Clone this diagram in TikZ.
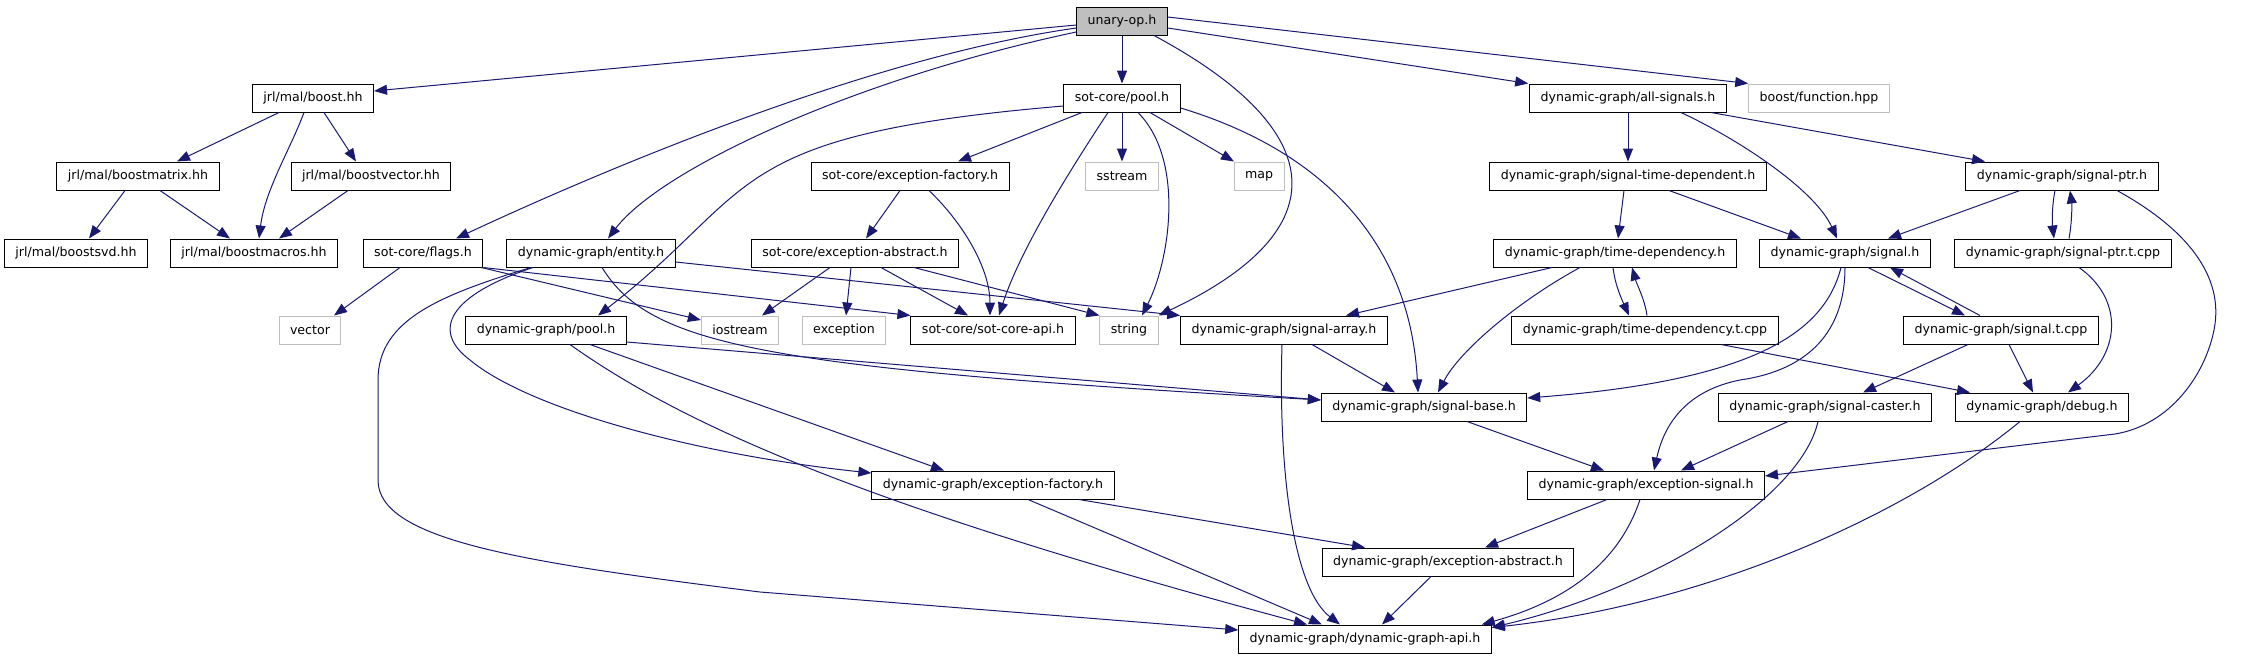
\documentclass[tikz,border=0pt]{standalone}
\usepackage{fontspec}
\setmainfont{DejaVu Sans}
\usetikzlibrary{arrows.meta}
\definecolor{Edge}{HTML}{191970}
\definecolor{SysLine}{HTML}{BFBFBF}
\definecolor{Top}{HTML}{BFBFBF}
\tikzset{
  hdr/.style={
    draw=black,line width=1pt,fill=white,
    minimum height=28pt,inner xsep=11pt,inner ysep=0pt,
    font=\fontsize{12.6}{15}\selectfont
  },
  syshdr/.style={hdr,draw=SysLine},
  incl/.style={-{Triangle[length=13pt,width=10pt]},draw=Edge,line width=1pt}
}

\begin{document}
\begin{tikzpicture}[x=1pt,y=-1pt]
  \useasboundingbox (0,0) rectangle (2260,659);
  % headers, row by row
  \node[hdr,fill=Top] (unary) at (1122,21) {unary-op.h};

  \node[hdr] (boost) at (313,98) {jrl/mal/boost.hh};
  \node[hdr] (sotpool) at (1122,98) {sot-core/pool.h};
  \node[hdr] (allsig) at (1628,98) {dynamic-graph/all-signals.h};
  \node[syshdr] (boostfn) at (1819,98) {boost/function.hpp};

  \node[hdr] (bmatrix) at (138,176) {jrl/mal/boostmatrix.hh};
  \node[hdr] (bvector) at (371,176) {jrl/mal/boostvector.hh};
  \node[hdr] (sotexcf) at (910,176) {sot-core/exception-factory.h};
  \node[syshdr] (sstream) at (1122,176) {sstream};
  \node[syshdr] (map) at (1259,176) {map};
  \node[hdr] (sigtd) at (1628,176) {dynamic-graph/signal-time-dependent.h};
  \node[hdr] (sigptr) at (2062,176) {dynamic-graph/signal-ptr.h};

  \node[hdr] (bsvd) at (76,253) {jrl/mal/boostsvd.hh};
  \node[hdr] (bmacros) at (254,253) {jrl/mal/boostmacros.hh};
  \node[hdr] (flags) at (423,253) {sot-core/flags.h};
  \node[hdr] (entity) at (591,253) {dynamic-graph/entity.h};
  \node[hdr] (sotexca) at (855,253) {sot-core/exception-abstract.h};
  \node[hdr] (timedep) at (1615,253) {dynamic-graph/time-dependency.h};
  \node[hdr] (signal) at (1845,253) {dynamic-graph/signal.h};
  \node[hdr] (sigptrt) at (2063,253) {dynamic-graph/signal-ptr.t.cpp};

  \node[syshdr] (vector) at (310,330) {vector};
  \node[hdr] (dgpool) at (546,330) {dynamic-graph/pool.h};
  \node[syshdr] (iostream) at (740,330) {iostream};
  \node[syshdr] (exception) at (844,330) {exception};
  \node[hdr] (sotapi) at (993,330) {sot-core/sot-core-api.h};
  \node[syshdr] (string) at (1129,330) {string};
  \node[hdr] (sigarray) at (1284,330) {dynamic-graph/signal-array.h};
  \node[hdr] (timedept) at (1645,330) {dynamic-graph/time-dependency.t.cpp};
  \node[hdr] (sigt) at (2001,330) {dynamic-graph/signal.t.cpp};

  \node[hdr] (sigbase) at (1424,407) {dynamic-graph/signal-base.h};
  \node[hdr] (sigcaster) at (1825,407) {dynamic-graph/signal-caster.h};
  \node[hdr] (debug) at (2042,407) {dynamic-graph/debug.h};

  \node[hdr] (dgexcf) at (993,485) {dynamic-graph/exception-factory.h};
  \node[hdr] (excsig) at (1646,485) {dynamic-graph/exception-signal.h};

  \node[hdr] (dgexca) at (1448,562) {dynamic-graph/exception-abstract.h};

  \node[hdr] (dgapi) at (1365,639) {dynamic-graph/dynamic-graph-api.h};

  % unary-op.h
  \draw[incl] ([yshift=-4pt]unary.west) -- ([yshift=7pt]boost.east);
  \draw[incl] ([yshift=-7pt]unary.west) .. controls (850,60) and (560,190) .. ([xshift=33pt]flags.north);
  \draw[incl] ([yshift=-11pt]unary.west) .. controls (850,80) and (660,170) .. ([xshift=17pt]entity.north);
  \draw[incl] (unary.south) -- (sotpool.north);
  \draw[incl] ([xshift=32pt]unary.south) .. controls (1330,130) and (1340,230) .. (string.north east);
  \draw[incl] ([yshift=-7pt]unary.east) -- ([xshift=-1pt]allsig.north west);
  \draw[incl] ([yshift=4pt]unary.east) -- (boostfn.north west);

  % jrl/mal
  \draw[incl] ([xshift=-34pt]boost.south) -- ([xshift=39pt]bmatrix.north);
  \draw[incl] ([xshift=-9pt]boost.south) .. controls (290,150) and (265,190) .. ([xshift=5pt]bmacros.north);
  \draw[incl] ([xshift=11pt]boost.south) -- ([xshift=-15pt]bvector.north);
  \draw[incl] ([xshift=-13pt]bmatrix.south) -- ([xshift=13pt]bsvd.north);
  \draw[incl] ([xshift=22pt]bmatrix.south) -- ([xshift=-24pt]bmacros.north);
  \draw[incl] ([xshift=-23pt]bvector.south) -- ([xshift=25pt]bmacros.north);

  % sot-core/pool.h
  \draw[incl] ([yshift=-8pt]sotpool.west) .. controls (720,135) and (760,190) .. ([xshift=52pt]dgpool.north);
  \draw[incl] ([xshift=-40pt]sotpool.south) -- ([xshift=48pt]sotexcf.north);
  \draw[incl] ([xshift=-14pt]sotpool.south) .. controls (1070,170) and (1020,250) .. ([xshift=6pt]sotapi.north);
  \draw[incl] (sotpool.south) -- (sstream.north);
  \draw[incl] ([xshift=16pt]sotpool.south) .. controls (1185,160) and (1170,260) .. ([xshift=13pt]string.north);
  \draw[incl] ([xshift=28pt]sotpool.south) -- ([xshift=-25pt]map.north);
  \draw[incl] ([yshift=-10pt]sotpool.east) .. controls (1320,150) and (1410,240) .. ([xshift=-6pt]sigbase.north);

  % sot-core exceptions and flags
  \draw[incl] ([xshift=-10pt]sotexcf.south) -- ([xshift=11pt]sotexca.north);
  \draw[incl] ([xshift=19pt]sotexcf.south) .. controls (965,225) and (990,270) .. ([xshift=-3pt]sotapi.north);
  \draw[incl] ([xshift=-25pt]sotexca.south) -- ([xshift=22pt]iostream.north);
  \draw[incl] ([xshift=-4pt]sotexca.south) -- ([xshift=2pt]exception.north);
  \draw[incl] ([xshift=26pt]sotexca.south) -- ([xshift=-25pt]sotapi.north);
  \draw[incl] ([xshift=59pt]sotexca.south) -- (string.north west);
  \draw[incl] ([xshift=-23pt]flags.south) -- ([xshift=24pt]vector.north);
  \draw[incl] ([xshift=-2pt]flags.south east) -- ([yshift=10pt]iostream.west);
  \draw[incl] (flags.south east) -- (sotapi.north west);

  % entity.h and pool.h
  \draw[incl] ([yshift=-9pt]entity.east) -- (sigarray.north west);
  \draw[incl] ([xshift=11pt]entity.south) .. controls (650,345) and (760,368) .. ([yshift=7pt]sigbase.west);
  \draw[incl] ([xshift=-58pt]entity.south) .. controls (450,295) and (430,330) .. (470,360)
    .. controls (530,410) and (700,455) .. ([yshift=12pt]dgexcf.west);
  \draw[incl] ([xshift=-60pt]entity.south) .. controls (440,295) and (378,320) .. (378,380) -- (378,480)
    .. controls (378,540) and (520,562) .. (760,592) -- ([yshift=9pt]dgapi.west);
  \draw[incl] ([yshift=-12pt]dgpool.east) -- ([yshift=7pt]sigbase.west);
  \draw[incl] ([xshift=44pt]dgpool.south) -- ([xshift=-49pt]dgexcf.north);
  \draw[incl] ([xshift=24pt]dgpool.south) .. controls (690,430) and (880,510) .. ([xshift=-58pt]dgapi.north);

  % all-signals.h and friends
  \draw[incl] (allsig.south) -- (sigtd.north);
  \draw[incl] ([xshift=53pt]allsig.south) .. controls (1740,140) and (1815,190) .. ([xshift=-8pt]signal.north);
  \draw[incl] ([xshift=83pt]allsig.south) -- ([xshift=-77pt]sigptr.north);
  \draw[incl] ([xshift=-4pt]sigtd.south) -- ([xshift=3pt]timedep.north);
  \draw[incl] ([xshift=41pt]sigtd.south) -- ([xshift=-44pt]signal.north);
  \draw[incl] ([xshift=-42pt]sigptr.south) -- ([xshift=43pt]signal.north);
  \draw[incl] ([xshift=-7pt]sigptr.south) .. controls (2052,205) and (2052,222) .. ([xshift=-9pt]sigptrt.north);
  \draw[incl] ([xshift=6pt]sigptrt.north) .. controls (2072,222) and (2072,205) .. ([xshift=8pt]sigptr.south);
  \draw[incl] ([xshift=55pt]sigptr.south) .. controls (2185,228) and (2225,275) .. (2214,330)
    .. controls (2205,375) and (2170,425) .. (2115,434) -- ([yshift=9pt]excsig.east);
  \draw[incl] ([xshift=16pt]sigptrt.south) .. controls (2125,300) and (2120,355) .. ([xshift=26pt]debug.north);

  % signal.h
  \draw[incl] ([xshift=23pt]signal.south) -- ([xshift=-36pt]sigt.north);
  \draw[incl] ([xshift=-21pt]sigt.north) -- ([xshift=45pt]signal.south);
  \draw[incl] ([xshift=-4pt]signal.south) .. controls (1825,330) and (1760,380) .. ([yshift=9pt]sigbase.east);
  \draw[incl] (signal.south) .. controls (1845,330) and (1810,370) .. (1740,380)
    .. controls (1690,390) and (1665,420) .. ([xshift=8pt]excsig.north);

  % time-dependency
  \draw[incl] ([xshift=-63pt]timedep.south) -- ([xshift=62pt]sigarray.north);
  \draw[incl] ([xshift=-35pt]timedep.south) .. controls (1520,300) and (1460,350) .. ([xshift=14pt]sigbase.north);
  \draw[incl] ([xshift=-2pt]timedep.south) .. controls (1615,285) and (1622,300) .. ([xshift=-16pt]timedept.north);
  \draw[incl] ([xshift=2pt]timedept.north) .. controls (1645,300) and (1637,285) .. ([xshift=17pt]timedep.south);
  \draw[incl] ([xshift=76pt]timedept.south) -- ([xshift=-72pt]debug.north);

  % signal.t.cpp, caster, debug
  \draw[incl] ([xshift=-33pt]sigt.south) -- ([xshift=38pt]sigcaster.north);
  \draw[incl] ([xshift=8pt]sigt.south) -- ([xshift=-9pt]debug.north);
  \draw[incl] ([xshift=-37pt]sigcaster.south) -- ([xshift=35pt]excsig.north);
  \draw[incl] ([xshift=-7pt]sigcaster.south) .. controls (1800,500) and (1650,590) .. ([yshift=-3pt]dgapi.north east);
  \draw[incl] ([xshift=-22pt]debug.south) .. controls (1900,520) and (1700,605) .. ([yshift=-3pt]dgapi.north east);

  % signal-array, signal-base, exceptions
  \draw[incl] ([xshift=28pt]sigarray.south) -- ([xshift=-29pt]sigbase.north);
  \draw[incl] ([xshift=-2pt]sigarray.south) .. controls (1278,480) and (1295,590) .. ([xshift=-25pt]dgapi.north);
  \draw[incl] ([xshift=43pt]sigbase.south) -- ([xshift=-42pt]excsig.north);
  \draw[incl] ([xshift=-39pt]excsig.south) -- ([xshift=37pt]dgexca.north);
  \draw[incl] ([xshift=-6pt]excsig.south) .. controls (1620,560) and (1570,600) .. ([xshift=-10pt]dgapi.north east);
  \draw[incl] ([xshift=86pt]dgexcf.south) -- ([xshift=-83pt]dgexca.north);
  \draw[incl] ([xshift=35pt]dgexcf.south) -- ([xshift=-43pt]dgapi.north);
  \draw[incl] ([xshift=-17pt]dgexca.south) -- ([xshift=17pt]dgapi.north);
\end{tikzpicture}
\end{document}
